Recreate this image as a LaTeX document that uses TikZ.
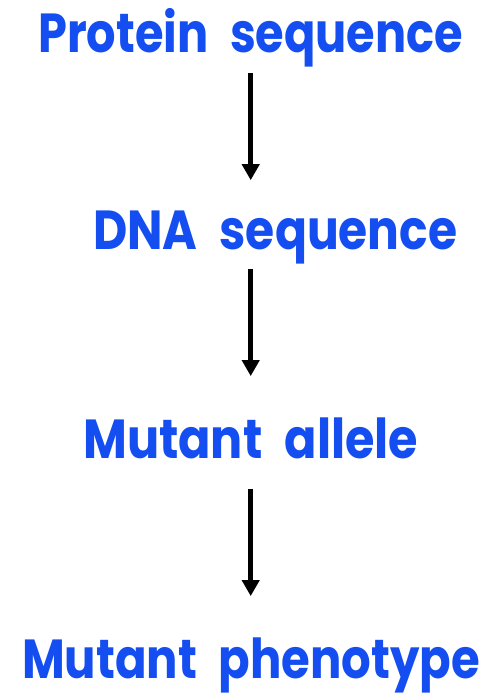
\documentclass[tikz,border=0pt]{standalone}
\usepackage{fontspec}
\usepackage{graphicx}
\usepackage{tikz}
\usetikzlibrary{arrows.meta}

\newfontfamily\stepfont{Poppins}[WordSpace=2.2]
\definecolor{stepblue}{RGB}{20,78,240}

% stretch a label sideways to a given width, keeping its height
\newcommand{\widento}[2]{\resizebox{#1}{\height}{#2}}

\tikzset{
	steplabel/.style={inner sep=0pt, anchor=base west, text=stepblue,
		font=\stepfont\bfseries\fontsize{55}{60}\selectfont},
	flow/.style={-{Triangle[width=17pt,length=16pt]}, line width=5pt, black}
}

\begin{document}
\begin{tikzpicture}[x=1pt,y=-1pt]
	\useasboundingbox (0,0) rectangle (489,697);

	\node[steplabel] (prot) at (38, 52)  {\widento{425pt}{Protein sequence}};
	\node[steplabel] (dna)  at (93, 249) {\widento{364pt}{DNA sequence}};
	\node[steplabel] (mut)  at (83, 458) {\widento{335pt}{Mutant allele}};
	\node[steplabel] (phen) at (22, 678) {\widento{458pt}{Mutant phenotype}};

	% arrows hang below each label, all on the same vertical line
	\coordinate (a1) at ([yshift=-6pt]prot.south);
	\coordinate (a2) at (a1 |- dna.south);
	\coordinate (a3) at (a1 |- mut.south);

	\draw[flow] (a1) -- ([yshift=30pt]a1 |- dna.north);
	\draw[flow] ([yshift=-5pt]a2) -- ([yshift=41pt]a1 |- mut.north);
	\draw[flow] ([yshift=-30pt]a3) -- ([yshift=41pt]a1 |- phen.north);

\end{tikzpicture}
\end{document}
